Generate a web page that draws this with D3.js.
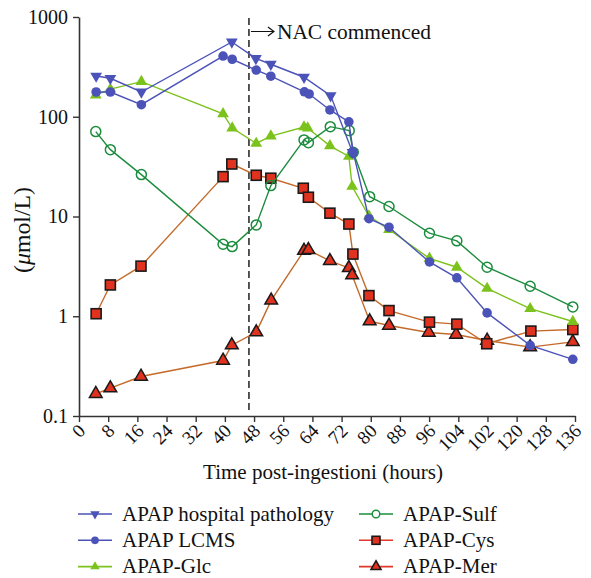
<!DOCTYPE html>
<html><head><meta charset="utf-8">
<script src="https://cdn.jsdelivr.net/npm/d3@7"></script>
<style>body{margin:0;background:#fff;}svg{display:block;}</style></head>
<body><svg id="c" width="591" height="578" font-family="Liberation Serif"></svg>
<script>
const xTickValues = [0,8,16,24,32,40,48,56,64,72,80,88,96,104,112,120,128,136];
const xTickLabels = ["0","8","16","24","32","40","48","56","64","72","80","88","96","104","102","120","128","136"];
const yTickValues = [0.1,1,10,100,1000];
const yTickLabels = ["0.1","1","10","100","1000"];
const nacTime = 46.6;

const hospTime = [4.7, 8.6, 17.1, 41.9, 48.5, 52.6, 61.7, 69.0, 75.0];
const hospVal  = [256, 243, 177, 562, 385, 336, 249, 163, 44];
const lcmsTime = [4.7, 8.6, 17.1, 39.5, 42.0, 48.6, 52.6, 61.8, 63.1, 68.8, 74.0, 75.2, 79.5, 85.0, 96.1, 103.6, 111.9, 123.7, 135.4];
const lcmsVal  = [177, 177, 132, 406, 377, 294, 255, 178, 169, 117, 89, 44, 9.5, 7.8, 3.5, 2.43, 1.08, 0.51, 0.37];
const glcTime  = [4.6, 8.6, 17.1, 39.5, 42.0, 48.6, 52.6, 61.7, 62.7, 68.8, 74.0, 74.9, 79.5, 85.0, 96.1, 103.6, 111.9, 123.7, 135.4];
const glcVal   = [165, 189, 225, 107, 77, 54, 64, 79, 77, 51, 40, 20, 10.1, 7.4, 3.8, 3.1, 1.9, 1.19, 0.885];
const sulfTime = [4.6, 8.6, 17.1, 39.5, 42.0, 48.6, 52.6, 61.7, 62.9, 68.9, 74.1, 75.2, 79.7, 85.0, 96.1, 103.6, 111.9, 123.7, 135.4];
const sulfVal  = [71, 46.8, 26.3, 5.27, 4.99, 8.24, 20.4, 58.6, 55, 79.6, 72.6, 44, 15.8, 12.6, 6.8, 5.7, 3.1, 2.0, 1.24];
const cysTime  = [4.7, 8.6, 17.0, 39.5, 41.9, 48.6, 52.6, 61.5, 62.9, 68.8, 74.0, 75.1, 79.5, 85.0, 96.1, 103.6, 111.8, 123.9, 135.4];
const cysVal   = [1.06, 2.06, 3.18, 25.1, 33.6, 25.9, 24.2, 19.2, 15.6, 10.8, 8.4, 4.2, 1.61, 1.14, 0.873, 0.834, 0.53, 0.71, 0.736];
const merTime  = [4.6, 8.6, 17.0, 39.5, 41.9, 48.6, 52.7, 61.7, 62.9, 68.8, 74.0, 74.9, 79.7, 85.0, 95.9, 103.4, 111.9, 123.7, 135.4];
const merVal   = [0.167, 0.19, 0.249, 0.36, 0.513, 0.693, 1.44, 4.55, 4.62, 3.59, 3.05, 2.58, 0.893, 0.807, 0.687, 0.656, 0.571, 0.49, 0.553];

const seriesNames = ["APAP hospital pathology","APAP LCMS","APAP-Glc","APAP-Sulf","APAP-Cys","APAP-Mer"];

const series = [
  {name:seriesNames[0], t:hospTime, v:hospVal, line:"#4b52b8", legLine:"#4b52b8", sym:"down", fill:"#4b52b8", stroke:"none"},
  {name:seriesNames[1], t:lcmsTime, v:lcmsVal, line:"#4b52b8", legLine:"#4b52b8", sym:"circle", fill:"#4b52b8", stroke:"none"},
  {name:seriesNames[2], t:glcTime, v:glcVal, line:"#7cc21c", legLine:"#7cc21c", sym:"up", fill:"#7cc21c", stroke:"none"},
  {name:seriesNames[3], t:sulfTime, v:sulfVal, line:"#1b8c3c", legLine:"#1b8c3c", sym:"ocircle", fill:"none", stroke:"#1b8c3c"},
  {name:seriesNames[4], t:cysTime, v:cysVal, line:"#c46a2a", legLine:"#e0392a", sym:"square", fill:"#e0321f", stroke:"#1a1a1a"},
  {name:seriesNames[5], t:merTime, v:merVal, line:"#c46a2a", legLine:"#e0392a", sym:"up2", fill:"#e0321f", stroke:"#1a1a1a"}
];

const FONT = '"Liberation Serif", "Times New Roman", serif';
const svg = d3.select("#c");
const x = d3.scaleLinear().domain([0,136]).range([79,575]);
const y = d3.scaleLog().domain([0.1,1000]).range([416,17]);
const axisColor = "#333";

function serif(sel){ return sel.attr("font-family","Liberation Serif").style("font-family",FONT); }
function fitText(sel, target){
  const w = sel.node().getComputedTextLength();
  const fs = parseFloat(sel.style("font-size"));
  sel.style("font-size", (fs*target/w).toFixed(2)+"px");
}

// axes
const gx = svg.append("g").attr("transform","translate(0,416)")
  .call(d3.axisBottom(x).tickValues(xTickValues).tickFormat((d,i)=>xTickLabels[i]).tickSize(6).tickSizeOuter(0));
gx.attr("font-family","Liberation Serif");
gx.select(".domain").attr("stroke",axisColor).attr("stroke-width",1.6);
gx.selectAll(".tick line").attr("stroke",axisColor).attr("stroke-width",1.4);
serif(gx.selectAll(".tick text")).style("font-size","19px").attr("fill","#111")
  .attr("text-anchor","end").attr("dy",0).attr("y",0)
  .attr("transform","translate(7,16) rotate(-45)");

const gy = svg.append("g").attr("transform","translate(79,0)")
  .call(d3.axisLeft(y).tickValues(yTickValues).tickFormat((d,i)=>yTickLabels[i]).tickSize(6).tickSizeOuter(0));
gy.attr("font-family","Liberation Serif");
gy.select(".domain").attr("stroke",axisColor).attr("stroke-width",1.6);
serif(gy.selectAll(".tick text")).style("font-size","20px").attr("fill","#111").attr("x",-11);
gy.selectAll(".tick line").attr("stroke",axisColor).attr("stroke-width",1.4);

// titles
const xt = serif(svg.append("text")).attr("x",323).attr("y",479).attr("text-anchor","middle").style("font-size","19px").attr("fill","#111")
  .text("Time post-ingestioni (hours)");
fitText(xt, 240);
const yt = serif(svg.append("text")).attr("transform","translate(30,230) rotate(-90)").attr("text-anchor","middle").style("font-size","19px").attr("fill","#111")
  .html('(<tspan font-style="italic">μ</tspan>mol/L)');
fitText(yt, 86);

// NAC line
const xn = x(nacTime);
svg.append("line").attr("x1",xn).attr("x2",xn).attr("y1",18).attr("y2",412)
  .attr("stroke","#111").attr("stroke-width",1.4).attr("stroke-dasharray","7,4");
svg.append("path").attr("d",`M${xn+2},31.5 H${xn+25} M${xn+19},27 L${xn+25},31.5 L${xn+19},36`)
  .attr("fill","none").attr("stroke","#111").attr("stroke-width",1.2);
const nt = serif(svg.append("text")).attr("x",xn+28).attr("y",39).style("font-size","20px").attr("fill","#111").text("NAC commenced");
fitText(nt, 154);

const line = d3.line().x(d=>x(d[0])).y(d=>y(d[1]));

function symbol(g, s, cx, cy, scale){
  scale = scale || 1;
  if(s.sym==="circle"){
    g.append("circle").attr("cx",cx).attr("cy",cy).attr("r",4.8*scale).attr("fill",s.fill);
  } else if(s.sym==="ocircle"){
    g.append("circle").attr("cx",cx).attr("cy",cy).attr("r",5*scale).attr("fill","#fff").attr("fill-opacity",0).attr("stroke",s.stroke).attr("stroke-width",1.5);
  } else if(s.sym==="square"){
    const h = 5*scale;
    g.append("rect").attr("x",cx-h).attr("y",cy-h).attr("width",2*h).attr("height",2*h).attr("fill",s.fill).attr("stroke",s.stroke).attr("stroke-width",1.6);
  } else if(s.sym==="up" || s.sym==="up2"){
    const p = d3.symbol().type(d3.symbolTriangle).size((s.sym==="up2"?70:60)*scale*scale)();
    g.append("path").attr("d",p).attr("transform",`translate(${cx},${cy})`).attr("fill",s.fill)
      .attr("stroke",s.stroke).attr("stroke-width",s.sym==="up2"?1.5:0);
  } else if(s.sym==="down"){
    const p = d3.symbol().type(d3.symbolTriangle).size(60*scale*scale)();
    g.append("path").attr("d",p).attr("transform",`translate(${cx},${cy}) rotate(180)`).attr("fill",s.fill);
  }
}

const order = [5,4,2,3,0,1];
order.forEach(i=>{
  const s = series[i];
  const pts = s.t.map((t,j)=>[t,s.v[j]]);
  const g = svg.append("g");
  g.append("path").attr("d",line(pts)).attr("fill","none").attr("stroke",s.line).attr("stroke-width",1.4);
  pts.forEach(p=>symbol(g,s,x(p[0]),y(p[1])));
});

// legend
let legSize = 19;
series.forEach((s,i)=>{
  const col = Math.floor(i/3), row = i%3;
  const lx = col===0 ? 78 : 359;
  const ly = 514 + row*26.3;
  const g = svg.append("g");
  g.append("line").attr("x1",lx).attr("x2",lx+34).attr("y1",ly).attr("y2",ly).attr("stroke",s.legLine).attr("stroke-width",1.6);
  if(s.sym==="ocircle"){ g.append("circle").attr("cx",lx+17).attr("cy",ly).attr("r",3.8).attr("fill","#fff").attr("stroke",s.stroke).attr("stroke-width",1.4); }
  else symbol(g, s, lx+17, ly, 0.8);
  const t = serif(g.append("text")).attr("x",lx+44).attr("y",ly+6.5).style("font-size",legSize+"px").attr("fill","#111").text(s.name);
  if(i===0){ fitText(t,212); legSize = parseFloat(t.style("font-size")); }
});
</script></body></html>
